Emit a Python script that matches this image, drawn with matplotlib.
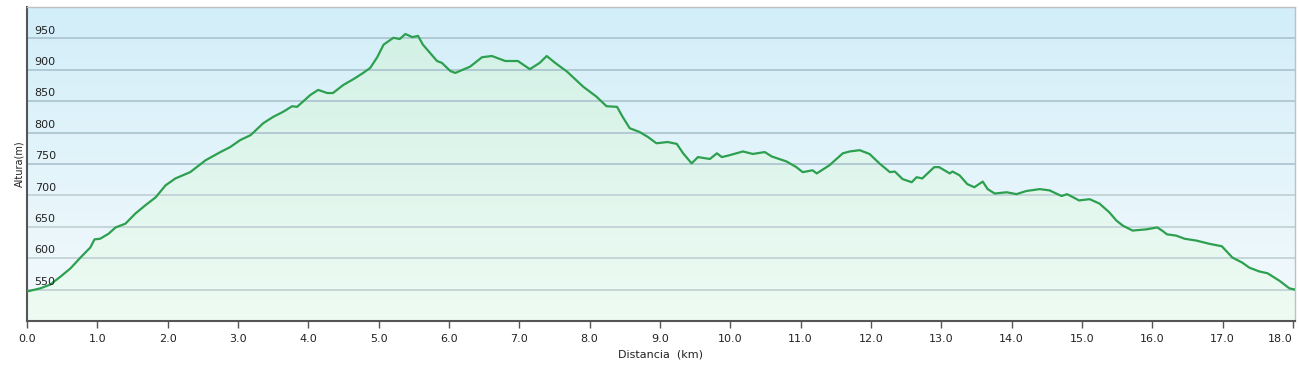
import matplotlib.pyplot as plt
import numpy as np
from matplotlib.colors import LinearSegmentedColormap

# perfil: distancia (km) / altura (m)
dist = [0.0, 0.19, 0.33, 0.48, 0.62, 0.76, 0.9, 0.96, 1.04, 1.16, 1.26, 1.4, 1.54,
        1.68, 1.83, 1.97, 2.11, 2.32, 2.54, 2.75, 2.89, 3.03, 3.18, 3.36, 3.5, 3.64,
        3.77, 3.84, 4.03, 4.14, 4.27, 4.35, 4.5, 4.64, 4.78, 4.88, 4.98, 5.07, 5.21,
        5.3, 5.38, 5.48, 5.56, 5.63, 5.73, 5.83, 5.9, 6.02, 6.09, 6.3, 6.47, 6.61,
        6.8, 6.98, 7.15, 7.29, 7.39, 7.51, 7.68, 7.91, 8.1, 8.24, 8.39, 8.47, 8.57,
        8.71, 8.83, 8.95, 9.11, 9.24, 9.33, 9.45, 9.54, 9.71, 9.81, 9.88, 9.99,
        10.18, 10.32, 10.49, 10.59, 10.8, 10.94, 11.03, 11.17, 11.23, 11.41, 11.6,
        11.7, 11.84, 11.98, 12.12, 12.27, 12.34, 12.45, 12.58, 12.65, 12.73, 12.9,
        12.97, 13.12, 13.16, 13.26, 13.37, 13.47, 13.59, 13.66, 13.76, 13.93, 14.07,
        14.21, 14.4, 14.54, 14.71, 14.79, 14.96, 15.11, 15.25, 15.39, 15.49, 15.58,
        15.72, 15.92, 16.07, 16.14, 16.21, 16.34, 16.46, 16.63, 16.81, 16.99, 17.14,
        17.28, 17.38, 17.52, 17.64, 17.81, 17.95, 18.03]
alt = [547, 552, 558, 571, 584, 601, 617, 630, 631, 639, 649, 655, 671,
       684, 697, 716, 727, 737, 756, 769, 777, 788, 796, 815, 825, 833,
       842, 841, 860, 868, 863, 863, 876, 885, 895, 903, 920, 940, 951,
       949, 957, 952, 954, 940, 927, 914, 911, 898, 895, 905, 920, 922,
       914, 914, 901, 911, 922, 911, 897, 873, 857, 842, 841, 825, 807,
       801, 793, 783, 785, 782, 767, 751, 761, 758, 767, 761, 764,
       770, 766, 769, 762, 754, 745, 737, 740, 735, 748, 767,
       770, 772, 766, 751, 737, 738, 726, 721, 729, 727, 745,
       745, 735, 738, 732, 718, 713, 722, 710, 703, 705, 702,
       707, 710, 708, 699, 702, 692, 694, 687, 673, 660, 652,
       644, 646, 649, 644, 638, 636, 631, 628, 623, 619, 601,
       593, 585, 579, 576, 564, 552, 550]

xticks = np.arange(0, 18.01, 1.0)
yticks = [550, 600, 650, 700, 750, 800, 850, 900, 950]

fig = plt.figure(figsize=(12.99, 3.66), dpi=100)
ax = fig.add_axes([27 / 1299, 1 - 321 / 366, 1268 / 1299, 314 / 366])
xmin, xmax, ymin, ymax = 0, 18.03, 500, 1000
ax.set_xlim(xmin, xmax)
ax.set_ylim(ymin, ymax)

# fondo degradado azul
bg = LinearSegmentedColormap.from_list('bg', ['#f4fafd', '#d2eef9'])
grad = np.linspace(0, 1, 256).reshape(-1, 1)
ax.imshow(grad, cmap=bg, aspect='auto', origin='lower',
          extent=[xmin, xmax, ymin, ymax], zorder=0)

# relleno verde degradado bajo la curva
gr = LinearSegmentedColormap.from_list('gr', ['#eefbf3', '#d3f1e6'])
im = ax.imshow(grad, cmap=gr, aspect='auto', origin='lower',
               extent=[xmin, xmax, ymin, 960], zorder=1)
poly = ax.fill_between(dist, alt, ymin, color='none', lw=0)
clip = poly.get_paths()[0]
im.set_clip_path(clip, transform=ax.transData)

for y in yticks:
    gc = '#adc6d1' if y > 700 else '#c2d3d6'
    ax.axhline(y, color=gc, lw=1.3, zorder=2)
    ax.annotate(str(y), (0, y), xytext=(5.5, 2), textcoords='offset points',
                ha='left', va='bottom', fontsize=8, color='#222222', zorder=5)

ax.plot(dist, alt, color='#2ca04f', lw=1.6, zorder=4)

ax.set_yticks([])
ax.set_xticks(xticks)
ax.set_xticklabels(['%.1f' % t for t in xticks], fontsize=8, color='#222222')
ax.tick_params(axis='x', direction='out', length=5, width=1, color='#555555', pad=4)
last = ax.get_xticklabels()[-1]
last.set_horizontalalignment('right')

for s in ['top', 'right']:
    ax.spines[s].set_color('#c0c0c0')
    ax.spines[s].set_linewidth(1)
for s in ['left', 'bottom']:
    ax.spines[s].set_color('#555555')
    ax.spines[s].set_linewidth(1.5)

ax.set_xlabel('Distancia  (km)', fontsize=8, color='#222222', labelpad=4)
ax.set_ylabel('Altura(m)', fontsize=7, color='#222222', labelpad=2)

fig.savefig('out.png', dpi=100)
